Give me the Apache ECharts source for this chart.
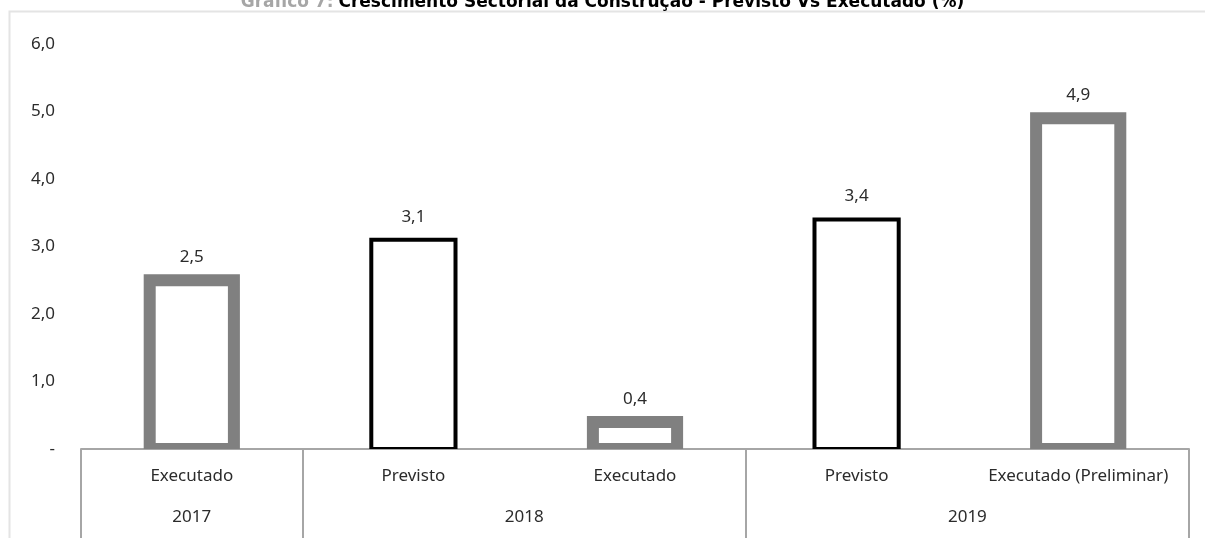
<!DOCTYPE html>
<html>
<head>
<meta charset="utf-8">
<script src="https://cdn.jsdelivr.net/npm/echarts@6/dist/echarts.min.js"></script>
<style>
  html, body { margin: 0; padding: 0; background: #fff; }
  #chart { width: 1205px; height: 538px; }
</style>
</head>
<body>
<div id="chart"></div>
<script>
// dados do gráfico
const categorias = ['Executado', 'Previsto', 'Executado', 'Previsto', 'Executado (Preliminar)'];
const valores = [2.5, 3.1, 0.4, 3.4, 4.9];
const tipos = ['exec', 'prev', 'exec', 'prev', 'exec'];
const anos = ['2017', '2018', '2019'];
const anosSpan = [1, 2, 2]; // nº de categorias por ano
const yTicks = [0, 1, 2, 3, 4, 5, 6];

const cores = { exec: '#808080', prev: '#000000' };
const espessura = { exec: 12, prev: 4 };
const fonte = '"Noto Sans", sans-serif';
const tam = 17;
const corTexto = '#2b2b2b';

// eixo auxiliar com meias posições para os anos e separadores
const meias = [];
const labelIdx = {};
const tickIdx = { 0: true };
let pos = 0;
anos.forEach((a, i) => {
  labelIdx[pos + anosSpan[i]] = a; // centro do grupo (em meias posições)
  pos += anosSpan[i] * 2;
  tickIdx[pos] = true;
});
for (let i = 0; i <= categorias.length * 2; i++) meias.push(labelIdx[i] || '');

const chart = echarts.init(document.getElementById('chart'));

const option = {
  backgroundColor: '#fff',
  animation: false,
  title: {
    left: 'center',
    top: -11,
    text: '{g|Gráfico 7:} {b|Crescimento Sectorial da Construção - Previsto Vs Executado (%)}',
    textStyle: {
      rich: {
        g: { color: '#a6a6a6', fontSize: 17, fontFamily: 'Tahoma, "DejaVu Sans", sans-serif' },
        b: { color: '#000', fontSize: 17, fontWeight: 'bold', fontFamily: 'Tahoma, "DejaVu Sans", sans-serif' }
      }
    }
  },
  graphic: [{
    type: 'rect',
    left: 7, top: 9,
    shape: { width: 1400, height: 800 },
    style: { fill: 'none', stroke: '#e4e4e4', lineWidth: 2 },
    z: -1
  }],
  grid: { left: 81, right: 16, top: 44, bottom: 89, containLabel: false },
  xAxis: [{
    type: 'category',
    data: categorias,
    boundaryGap: true,
    axisLine: { lineStyle: { color: '#a6a6a6', width: 2 } },
    axisTick: { show: false },
    axisLabel: { interval: 0, margin: 19, color: corTexto, fontSize: tam, fontFamily: fonte }
  }, {
    type: 'category',
    data: meias,
    boundaryGap: false,
    position: 'bottom',
    axisLine: { show: false },
    axisTick: {
      show: true,
      length: 90,
      interval: (i) => !!tickIdx[i],
      lineStyle: { color: '#a6a6a6', width: 2 }
    },
    axisLabel: {
      interval: (i, v) => v !== '',
      margin: 60,
      color: corTexto, fontSize: tam, fontFamily: fonte
    }
  }],
  yAxis: {
    type: 'value',
    min: 0, max: 6, interval: 1,
    splitLine: { show: false },
    axisLine: { show: false },
    axisTick: { show: false },
    axisLabel: {
      margin: 26,
      color: corTexto, fontSize: tam, fontFamily: fonte,
      formatter: (v) => v === 0 ? '-' : v.toFixed(1).replace('.', ',')
    }
  },
  series: [{
    type: 'custom',
    xAxisIndex: 0,
    clip: true,
    data: valores.map((v, i) => [i, v]),
    renderItem: (params, api) => {
      const i = api.value(0);
      const v = api.value(1);
      const topo = api.coord([i, v]);
      const base = api.coord([i, 0]);
      const w = api.size([1, 0])[0] * 0.38;
      const t = tipos[i];
      return {
        type: 'rect',
        shape: { x: topo[0] - w / 2, y: topo[1], width: w, height: base[1] - topo[1] },
        style: { fill: '#fff', stroke: cores[t], lineWidth: espessura[t] }
      };
    }
  }, {
    // rótulos dos valores
    type: 'custom',
    xAxisIndex: 0,
    clip: false,
    data: valores.map((v, i) => [i, v]),
    renderItem: (params, api) => {
      const i = api.value(0);
      const v = api.value(1);
      const p = api.coord([i, v]);
      return {
        type: 'text',
        x: p[0], y: p[1] - 23,
        style: {
          text: v.toFixed(1).replace('.', ','),
          fill: corTexto, font: tam + 'px "Noto Sans", sans-serif',
          align: 'center', verticalAlign: 'middle'
        }
      };
    }
  }]
};

chart.setOption(option);
</script>
</body>
</html>
